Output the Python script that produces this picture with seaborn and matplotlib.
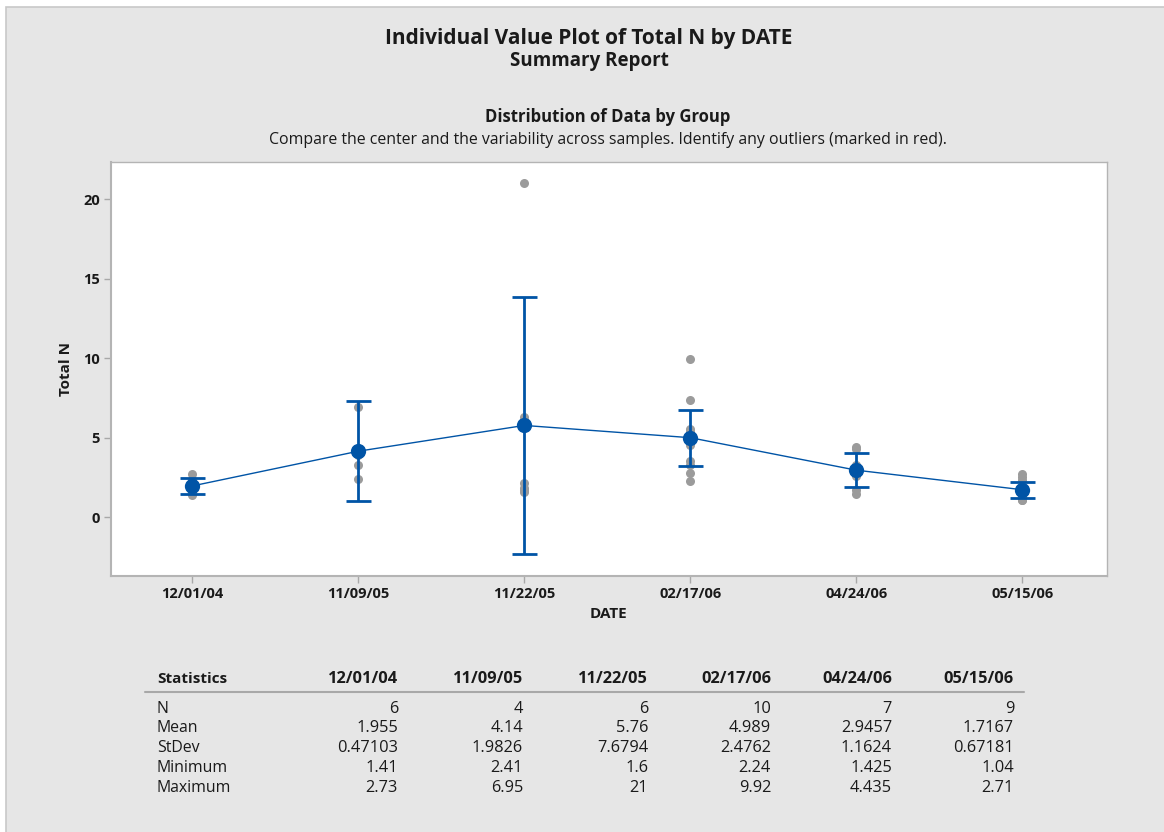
import numpy as np
import pandas as pd
import matplotlib
matplotlib.use("Agg")
import matplotlib.pyplot as plt
import seaborn as sns
from matplotlib.patches import Rectangle
from matplotlib.lines import Line2D

# ---------------- data ----------------
dates = ["12/01/04", "11/09/05", "11/22/05", "02/17/06", "04/24/06", "05/15/06"]

vals_120104 = [1.41, 1.55, 1.80, 1.90, 2.34, 2.73]
vals_110905 = [2.41, 3.27, 3.93, 6.95]
vals_112205 = [1.60, 1.70, 1.80, 2.16, 6.30, 21.0]
vals_021706 = [2.24, 2.80, 3.30, 3.50, 4.52, 5.30, 5.40, 5.55, 7.36, 9.92]
vals_042406 = [1.425, 1.70, 2.60, 2.90, 3.26, 4.30, 4.435]
vals_051506 = [1.04, 1.10, 1.20, 1.40, 1.60, 1.60, 2.30, 2.50, 2.71]
groups = [vals_120104, vals_110905, vals_112205, vals_021706, vals_042406, vals_051506]

stat_n = [6, 4, 6, 10, 7, 9]
stat_mean = [1.955, 4.14, 5.76, 4.989, 2.9457, 1.7167]
stat_sd = [0.47103, 1.9826, 7.6794, 2.4762, 1.1624, 0.67181]
stat_min = [1.41, 2.41, 1.6, 2.24, 1.425, 1.04]
stat_max = [2.73, 6.95, 21, 9.92, 4.435, 2.71]

# two-sided 95% t critical values by degrees of freedom
t_crit = {3: 3.182, 5: 2.571, 6: 2.447, 8: 2.306, 9: 2.262}

# ---------------- style ----------------
sns.set_theme(style="white")
plt.rcParams["font.family"] = ["Open Sans", "DejaVu Sans"]
TXT = "#1a1a1a"
BLUE = "#0054a6"
GREY = "#9b9b9b"

W, H = 1164, 832
def fx(px):
    return px / W
def fy(py):
    return 1 - py / H

fig = plt.figure(figsize=(W / 100, H / 100), dpi=100, facecolor="white")
fig.patches.append(Rectangle((fx(6), -0.05), 1.2, fy(7) + 0.05, transform=fig.transFigure,
                             facecolor="#e6e6e6", edgecolor="#c8c8c8", lw=1.2, zorder=-5))

ax = fig.add_axes([fx(111), fy(576), fx(1107) - fx(111), fy(162) - fy(576)])
ax.set_zorder(1)
ax.set_facecolor("white")

df = pd.DataFrame({
    "DATE": np.repeat(dates, [len(g) for g in groups]),
    "Total N": np.concatenate(groups),
})

sns.stripplot(data=df, x="DATE", y="Total N", order=dates, jitter=False,
              color=GREY, size=6.5, linewidth=0, ax=ax, zorder=1)

ci_half = [t_crit[n - 1] * s / np.sqrt(n) for n, s in zip(stat_n, stat_sd)]
ax.errorbar(np.arange(len(dates)), stat_mean, yerr=ci_half, fmt="none", ecolor=BLUE,
            elinewidth=2.0, capsize=9, capthick=2.0, zorder=3)

n_before = len(ax.lines)
sns.pointplot(x=dates, y=stat_mean, order=dates, color=BLUE, markers="o",
              markersize=11, linewidth=1.0, errorbar=None, ax=ax)
for ln in ax.lines[n_before:]:
    ln.set_zorder(4)
    ln.set_markeredgewidth(0)

ax.set_xlim(-0.49, 5.51)
ax.set_ylim(-3.71, 22.33)
ax.set_yticks([0, 5, 10, 15, 20])
ax.set_xlabel("")
ax.set_ylabel("")
ax.tick_params(axis="both", which="major", length=5, width=1, color="#a8a8a8",
               labelsize=10.5, pad=3, labelcolor=TXT, bottom=True, left=True)
for lab in ax.get_xticklabels() + ax.get_yticklabels():
    lab.set_fontweight("bold")
for side, sp in ax.spines.items():
    sp.set_color("#b4b4b4")
    sp.set_linewidth(1.5 if side in ("left", "bottom") else 1.0)

fig.text(fx(608), fy(614), "DATE", ha="center", va="center", fontsize=11,
         fontweight="bold", color=TXT)
fig.text(fx(66), fy(369), "Total N", ha="center", va="center", rotation=90,
         fontsize=11, fontweight="bold", color=TXT)

# ---------------- titles ----------------
fig.text(fx(589), fy(44), "Individual Value Plot of Total N by DATE", ha="center",
         va="baseline", fontsize=15, fontweight="bold", color=TXT)
fig.text(fx(589), fy(66), "Summary Report", ha="center", va="baseline",
         fontsize=13.5, fontweight="bold", color=TXT)
fig.text(fx(608), fy(122), "Distribution of Data by Group", ha="center", va="baseline",
         fontsize=12, fontweight="bold", color=TXT)
fig.text(fx(608), fy(144),
         "Compare the center and the variability across samples. Identify any outliers (marked in red).",
         ha="center", va="baseline", fontsize=11.4, color=TXT)

# ---------------- statistics table ----------------
col_right = [398, 523, 648, 771, 892, 1014]
fig.text(fx(157), fy(683), "Statistics", ha="left", va="baseline", fontsize=11,
         fontweight="bold", color=TXT)
for xr, d in zip(col_right, dates):
    fig.text(fx(xr), fy(683), d, ha="right", va="baseline", fontsize=11.8,
             fontweight="bold", color=TXT)
fig.add_artist(Line2D([fx(145), fx(1024)], [fy(692), fy(692)], color="#a8a8a8", lw=1.5,
                      transform=fig.transFigure))

rows = [("N", stat_n), ("Mean", stat_mean), ("StDev", stat_sd),
        ("Minimum", stat_min), ("Maximum", stat_max)]
row_base = [713, 732, 752.5, 772.5, 792.5]
for (name, vals), yb in zip(rows, row_base):
    fig.text(fx(157), fy(yb), name, ha="left", va="baseline", fontsize=11.4, color=TXT)
    for xr, v in zip(col_right, vals):
        fig.text(fx(xr), fy(yb), f"{v:g}", ha="right", va="baseline", fontsize=11.8, color=TXT)

fig.savefig("out.png", dpi=100, facecolor=fig.get_facecolor())
